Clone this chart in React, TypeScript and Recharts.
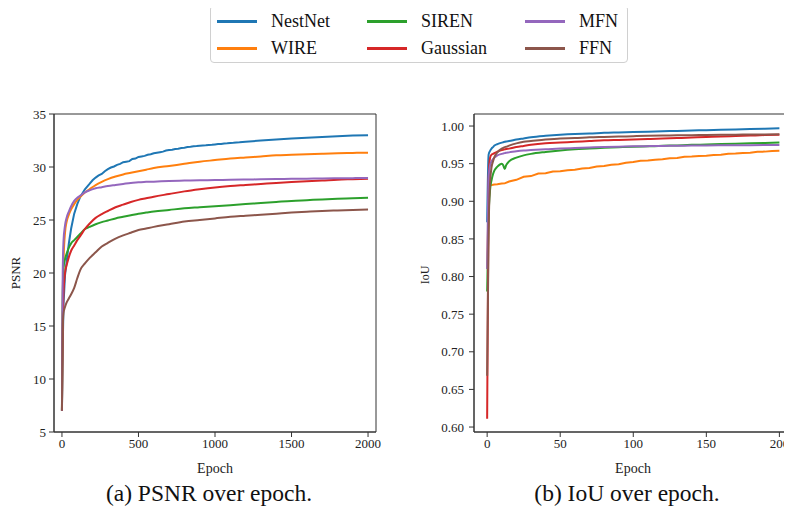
import { LineChart, Line, XAxis, YAxis, ReferenceArea } from "recharts";

const seriesNames = ["NestNet", "WIRE", "SIREN", "Gaussian", "MFN", "FFN"];
const seriesColors = ["#1f77b4", "#ff7f0e", "#2ca02c", "#d62728", "#9467bd", "#8c564b"];

// (a) PSNR over epoch
const psnrEpochs = [0, 2, 5, 10, 20, 30, 45, 60, 80, 100, 120, 150, 180, 220, 260, 300, 350, 400, 450, 500, 550, 600, 700, 800, 900, 1000, 1100, 1200, 1300, 1400, 1500, 1600, 1700, 1800, 1900, 2000];
// NestNet is logged more densely (noisy curve)
const nestnetEpochs = [0, 2, 5, 10, 20, 30, 45, 60, 80, 100, 120, 150, 180, 200, 220, 240, 260, 280, 300, 320, 340, 360, 380, 400, 420, 440, 460, 480, 500, 520, 540, 560, 580, 600, 620, 640, 660, 680, 700, 720, 740, 760, 780, 800, 820, 840, 860, 880, 900, 920, 940, 960, 980, 1000, 1020, 1040, 1060, 1080, 1100, 1120, 1140, 1160, 1180, 1200, 1300, 1400, 1500, 1600, 1700, 1800, 1900, 2000];
const nestnetPsnr = [7.0, 9.5, 13, 17, 19.8, 21.0, 22.8, 24.2, 25.6, 26.5, 27.2, 27.9, 28.4, 28.75, 29.0, 29.2, 29.35, 29.6, 29.8, 29.95, 30.05, 30.2, 30.3, 30.45, 30.5, 30.55, 30.75, 30.8, 30.95, 31.0, 31.05, 31.15, 31.2, 31.3, 31.35, 31.4, 31.45, 31.55, 31.6, 31.62, 31.7, 31.72, 31.8, 31.82, 31.88, 31.9, 31.95, 31.97, 32.0, 32.03, 32.05, 32.08, 32.1, 32.13, 32.16, 32.18, 32.22, 32.24, 32.27, 32.29, 32.32, 32.33, 32.36, 32.38, 32.5, 32.6, 32.7, 32.77, 32.84, 32.9, 32.96, 33.0];
const wirePsnr = [7.0, 12, 17, 21, 23.8, 24.8, 25.5, 26.0, 26.5, 26.9, 27.2, 27.6, 27.9, 28.3, 28.6, 28.85, 29.1, 29.3, 29.45, 29.6, 29.75, 29.9, 30.1, 30.3, 30.5, 30.65, 30.8, 30.9, 31.0, 31.1, 31.15, 31.2, 31.25, 31.3, 31.33, 31.35];
const sirenPsnr = [7.0, 13, 18, 20.5, 21.3, 21.8, 22.4, 22.8, 23.1, 23.4, 23.7, 24.15, 24.35, 24.6, 24.8, 24.95, 25.15, 25.3, 25.45, 25.6, 25.7, 25.8, 25.95, 26.1, 26.2, 26.3, 26.4, 26.5, 26.6, 26.7, 26.8, 26.87, 26.94, 27.0, 27.05, 27.1];
const gaussianPsnr = [7.0, 11, 15, 18, 20, 20.7, 21.5, 22.1, 22.6, 23.1, 23.5, 24.15, 24.65, 25.2, 25.55, 25.85, 26.2, 26.45, 26.7, 26.9, 27.05, 27.2, 27.45, 27.7, 27.9, 28.07, 28.2, 28.3, 28.4, 28.5, 28.58, 28.65, 28.72, 28.8, 28.85, 28.9];
const mfnPsnr = [7.0, 14, 20, 23, 24.5, 25.2, 25.8, 26.3, 26.8, 27.1, 27.3, 27.6, 27.8, 28.0, 28.1, 28.2, 28.3, 28.4, 28.5, 28.55, 28.6, 28.62, 28.68, 28.72, 28.75, 28.77, 28.8, 28.82, 28.84, 28.86, 28.88, 28.9, 28.92, 28.93, 28.95, 28.96];
const ffnPsnr = [7.0, 11, 14.5, 16.2, 16.8, 17.2, 17.6, 18.0, 18.6, 19.5, 20.3, 20.9, 21.4, 21.95, 22.5, 22.85, 23.25, 23.55, 23.8, 24.05, 24.2, 24.35, 24.6, 24.85, 25.0, 25.15, 25.3, 25.4, 25.5, 25.6, 25.7, 25.78, 25.85, 25.9, 25.95, 26.0];
const psnrTicks = [5, 10, 15, 20, 25, 30, 35];
const psnrEpochTicks = [0, 500, 1000, 1500, 2000];

// (b) IoU over epoch
const iouEpochs = [0, 1, 2, 3, 4, 5, 7, 10, 11, 12, 13, 15, 20, 25, 30, 40, 50, 60, 70, 80, 90, 100, 110, 120, 130, 140, 150, 160, 170, 180, 190, 200];
const nestnetIou = [0.872, 0.962, 0.967, 0.97, 0.972, 0.974, 0.976, 0.978, 0.9785, 0.979, 0.9795, 0.98, 0.982, 0.9835, 0.985, 0.987, 0.9885, 0.9895, 0.99, 0.991, 0.9915, 0.992, 0.9925, 0.993, 0.9935, 0.994, 0.9945, 0.995, 0.9955, 0.996, 0.9965, 0.997];
// WIRE is logged more densely (noisy curve)
const wireIouEpochs = [0, 1, 2, 3, 4, 5, 7, 10, 12, 15, 20, 25, 30, 35, 40, 45, 50, 55, 60, 65, 70, 75, 80, 85, 90, 95, 100, 105, 110, 115, 120, 125, 130, 135, 140, 145, 150, 155, 160, 165, 170, 175, 180, 185, 190, 195, 200];
const wireIou = [0.81, 0.9, 0.921, 0.9215, 0.922, 0.9222, 0.9225, 0.9235, 0.9238, 0.9262, 0.9285, 0.9325, 0.9335, 0.9368, 0.9372, 0.9395, 0.9398, 0.9412, 0.9418, 0.9435, 0.9442, 0.9462, 0.9468, 0.9485, 0.9492, 0.9512, 0.9522, 0.9538, 0.9542, 0.9553, 0.9558, 0.9572, 0.9576, 0.9592, 0.9594, 0.9602, 0.9606, 0.9614, 0.9618, 0.9632, 0.9634, 0.9642, 0.9646, 0.9657, 0.966, 0.9667, 0.967];
const sirenIou = [0.78, 0.88, 0.915, 0.928, 0.936, 0.941, 0.946, 0.95, 0.948, 0.943, 0.948, 0.953, 0.958, 0.961, 0.963, 0.9655, 0.9675, 0.969, 0.97, 0.971, 0.9718, 0.9725, 0.973, 0.9737, 0.9743, 0.975, 0.9755, 0.976, 0.9765, 0.977, 0.9775, 0.978];
const gaussianIou = [0.611, 0.93, 0.958, 0.962, 0.963, 0.964, 0.966, 0.968, 0.9685, 0.969, 0.9695, 0.97, 0.972, 0.9735, 0.975, 0.977, 0.978, 0.979, 0.98, 0.981, 0.9815, 0.982, 0.9827, 0.9834, 0.984, 0.9847, 0.9855, 0.986, 0.9867, 0.9873, 0.988, 0.9885];
const mfnIou = [0.81, 0.93, 0.948, 0.953, 0.956, 0.958, 0.961, 0.963, 0.9635, 0.964, 0.9645, 0.965, 0.9665, 0.9675, 0.968, 0.969, 0.97, 0.9708, 0.9715, 0.972, 0.9725, 0.973, 0.9733, 0.9736, 0.9738, 0.974, 0.9742, 0.9744, 0.9745, 0.9746, 0.9747, 0.9748];
const ffnIou = [0.668, 0.86, 0.925, 0.945, 0.953, 0.959, 0.965, 0.97, 0.971, 0.972, 0.9725, 0.974, 0.977, 0.979, 0.98, 0.982, 0.9835, 0.984, 0.985, 0.9855, 0.986, 0.9865, 0.987, 0.9873, 0.9876, 0.9879, 0.9881, 0.9883, 0.9885, 0.9887, 0.9889, 0.989];
const iouTicks = [0.6, 0.65, 0.7, 0.75, 0.8, 0.85, 0.9, 0.95, 1.0];
const iouEpochTicks = [0, 50, 100, 150, 200];

type Pt = { epoch: number; value: number };
const toPoints = (epochs: number[], values: number[]): Pt[] => epochs.map((epoch, i) => ({ epoch, value: values[i] }));

const psnrLines = [
  toPoints(nestnetEpochs, nestnetPsnr),
  toPoints(psnrEpochs, wirePsnr),
  toPoints(psnrEpochs, sirenPsnr),
  toPoints(psnrEpochs, gaussianPsnr),
  toPoints(psnrEpochs, mfnPsnr),
  toPoints(psnrEpochs, ffnPsnr),
];
const iouLines = [
  toPoints(iouEpochs, nestnetIou),
  toPoints(wireIouEpochs, wireIou),
  toPoints(iouEpochs, sirenIou),
  toPoints(iouEpochs, gaussianIou),
  toPoints(iouEpochs, mfnIou),
  toPoints(iouEpochs, ffnIou),
];

const FONT = "Liberation Serif, DejaVu Serif, serif";
const tickStyle = { fill: "#222", fontSize: 13, fontFamily: FONT, style: { fontFamily: FONT } };
const axisStroke = "#333";
const textStyle = { fontFamily: FONT };

// noisy: index of the series drawn with straight segments
const lines = (sets: Pt[][], noisy: number) =>
  seriesNames.map((name, i) => (
    <Line
      key={name}
      data={sets[i]}
      name={name}
      type={i === noisy ? "linear" : "monotone"}
      dataKey="value"
      stroke={seriesColors[i]}
      strokeWidth={2}
      dot={false}
      isAnimationActive={false}
    />
  ));

const Legend = () => (
  <div
    style={{
      position: "absolute",
      left: 210,
      top: 5,
      width: 416,
      height: 56,
      border: "1px solid #d0d0d0",
      borderRadius: 4,
      background: "#fff",
    }}
  >
    {seriesNames.map((name, i) => {
      const col = Math.floor(i / 2);
      const row = i % 2;
      const left = [6, 156, 314][col];
      return (
        <div
          key={name}
          style={{
            position: "absolute",
            left,
            top: row === 0 ? 4 : 31,
            height: 22,
            display: "flex",
            alignItems: "center",
            fontSize: 18,
            fontFamily: FONT,
            color: "#111",
          }}
        >
          <span style={{ display: "inline-block", width: 40, height: 3, background: seriesColors[i], marginRight: 14 }} />
          {name}
        </div>
      );
    })}
  </div>
);

const App = () => {
  return (
    <div
      style={{
        position: "relative",
        width: 792,
        height: 516,
        margin: -8,
        overflow: "hidden",
        background: "#fff",
        fontFamily: FONT,
      }}
    >
      <Legend />
      <div style={{ position: "absolute", left: 0, top: 0 }}>
        <LineChart width={400} height={480} margin={{ top: 114, right: 24, bottom: 18, left: 0 }} style={textStyle}>
          <XAxis
            dataKey="epoch"
            type="number"
            domain={[-52, 2052]}
            ticks={psnrEpochTicks}
            allowDataOverflow
            allowDuplicatedCategory={false}
            height={30}
            tickSize={5}
            tick={tickStyle}
            stroke={axisStroke}
          />
          <YAxis
            type="number"
            domain={[5, 35]}
            ticks={psnrTicks}
            allowDataOverflow
            width={54}
            tickSize={5}
            tickMargin={3}
            tick={tickStyle}
            stroke={axisStroke}
          />
          <ReferenceArea x1={-52} x2={2052} y1={5} y2={35} fill="none" stroke={axisStroke} strokeWidth={1} />
          {lines(psnrLines, 0)}
          <text x={215} y={473} textAnchor="middle" fontSize={14} fill="#222" style={textStyle}>
            Epoch
          </text>
          <text x={20} y={273} textAnchor="middle" fontSize={13} fill="#222" style={textStyle} transform="rotate(-90 20 273)">
            PSNR
          </text>
        </LineChart>
      </div>
      <div style={{ position: "absolute", left: 400, top: 0 }}>
        <LineChart width={400} height={480} margin={{ top: 114, right: 6, bottom: 18, left: 0 }} style={textStyle}>
          <XAxis
            dataKey="epoch"
            type="number"
            domain={[-9, 210]}
            ticks={iouEpochTicks}
            allowDataOverflow
            allowDuplicatedCategory={false}
            height={30}
            tickSize={5}
            tick={tickStyle}
            stroke={axisStroke}
          />
          <YAxis
            type="number"
            domain={[0.5934, 1.016]}
            ticks={iouTicks}
            allowDataOverflow
            width={74}
            tickSize={5}
            tickMargin={5}
            tick={tickStyle}
            tickFormatter={(v: number) => v.toFixed(2)}
            stroke={axisStroke}
          />
          <ReferenceArea x1={-9} x2={210} y1={0.5934} y2={1.016} fill="none" stroke={axisStroke} strokeWidth={1} />
          {lines(iouLines, 1)}
          <text x={233} y={473} textAnchor="middle" fontSize={14} fill="#222" style={textStyle}>
            Epoch
          </text>
          <text x={29} y={275} textAnchor="middle" fontSize={12} fill="#222" style={textStyle} transform="rotate(-90 29 275)">
            IoU
          </text>
        </LineChart>
      </div>
      <div style={{ position: "absolute", left: 0, width: 418, top: 480, textAlign: "center", fontSize: 23.5, color: "#111", fontFamily: FONT }}>
        (a) PSNR over epoch.
      </div>
      <div style={{ position: "absolute", left: 427, width: 400, top: 480, textAlign: "center", fontSize: 23.5, color: "#111", fontFamily: FONT }}>
        (b) IoU over epoch.
      </div>
    </div>
  );
};

export default App;
